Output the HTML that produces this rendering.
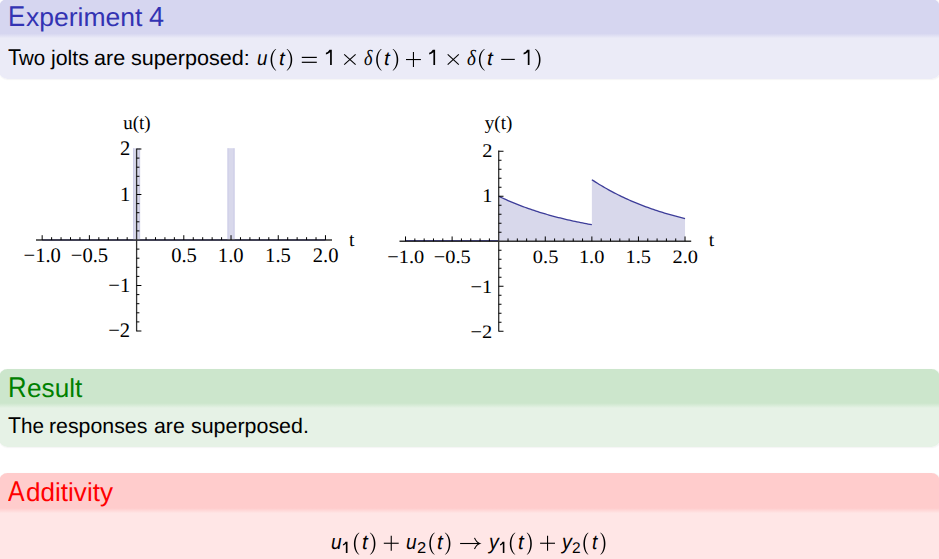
<!DOCTYPE html>
<html><head><meta charset="utf-8"><style>
html,body{margin:0;padding:0;}
body{width:939px;height:559px;overflow:hidden;background:#fff;position:relative;}
.blk{position:absolute;left:-1.2px;width:941.2px;border-radius:8.5px;box-shadow:0.4px 0.8px 1px rgba(60,60,60,0.05);}
span{position:absolute;line-height:1;white-space:pre;transform-origin:0 0;text-rendering:geometricPrecision;}
svg{position:absolute;left:0;top:0;}
</style></head><body>
<div class="blk" style="top:-1.0px;height:80.00px;background:linear-gradient(to bottom,rgb(214,214,240) 0px,rgb(214,214,240) 34.50px,rgb(235,235,247) 39.20px,rgb(235,235,247) 100%)"></div><div class="blk" style="top:369.27px;height:77.33px;background:linear-gradient(to bottom,rgb(204,230,204) 0px,rgb(204,230,204) 34.13px,rgb(230,242,230) 39.03px,rgb(230,242,230) 100%)"></div><div class="blk" style="top:473.27px;height:126.73px;background:linear-gradient(to bottom,rgb(255,204,204) 0px,rgb(255,204,204) 35.13px,rgb(255,230,230) 40.23px,rgb(255,230,230) 100%)"></div>
<svg width="939" height="559" viewBox="0 0 939 559">
<line x1="42.17" y1="240" x2="325.46" y2="240" stroke="rgb(61,61,153)" stroke-width="1.5"/>
<rect x="133.20" y="148.2" width="6.8" height="91.80" fill="rgb(216,216,235)"/>
<line x1="133.50" y1="148.2" x2="133.50" y2="240" stroke="rgb(200,200,228)" stroke-width="0.8"/>
<line x1="139.70" y1="148.2" x2="139.70" y2="240" stroke="rgb(200,200,228)" stroke-width="0.8"/>
<rect x="227.63" y="148.2" width="6.8" height="91.80" fill="rgb(216,216,235)"/>
<line x1="227.93" y1="148.2" x2="227.93" y2="240" stroke="rgb(200,200,228)" stroke-width="0.8"/>
<line x1="234.13" y1="148.2" x2="234.13" y2="240" stroke="rgb(200,200,228)" stroke-width="0.8"/>
<line x1="36" y1="240.0" x2="332" y2="240.0" stroke="#333" stroke-width="1.3"/>
<line x1="136.6" y1="148.6" x2="136.6" y2="331.4" stroke="#333" stroke-width="1.3"/>
<line x1="42.17" y1="240.0" x2="42.17" y2="235.2" stroke="#000" stroke-width="1.0"/>
<line x1="51.61" y1="240.0" x2="51.61" y2="237.2" stroke="#000" stroke-width="1.0"/>
<line x1="61.06" y1="240.0" x2="61.06" y2="237.2" stroke="#000" stroke-width="1.0"/>
<line x1="70.50" y1="240.0" x2="70.50" y2="237.2" stroke="#000" stroke-width="1.0"/>
<line x1="79.94" y1="240.0" x2="79.94" y2="237.2" stroke="#000" stroke-width="1.0"/>
<line x1="89.38" y1="240.0" x2="89.38" y2="235.2" stroke="#000" stroke-width="1.0"/>
<line x1="98.83" y1="240.0" x2="98.83" y2="237.2" stroke="#000" stroke-width="1.0"/>
<line x1="108.27" y1="240.0" x2="108.27" y2="237.2" stroke="#000" stroke-width="1.0"/>
<line x1="117.71" y1="240.0" x2="117.71" y2="237.2" stroke="#000" stroke-width="1.0"/>
<line x1="127.16" y1="240.0" x2="127.16" y2="237.2" stroke="#000" stroke-width="1.0"/>
<line x1="146.04" y1="240.0" x2="146.04" y2="237.2" stroke="#000" stroke-width="1.0"/>
<line x1="155.49" y1="240.0" x2="155.49" y2="237.2" stroke="#000" stroke-width="1.0"/>
<line x1="164.93" y1="240.0" x2="164.93" y2="237.2" stroke="#000" stroke-width="1.0"/>
<line x1="174.37" y1="240.0" x2="174.37" y2="237.2" stroke="#000" stroke-width="1.0"/>
<line x1="183.81" y1="240.0" x2="183.81" y2="235.2" stroke="#000" stroke-width="1.0"/>
<line x1="193.26" y1="240.0" x2="193.26" y2="237.2" stroke="#000" stroke-width="1.0"/>
<line x1="202.70" y1="240.0" x2="202.70" y2="237.2" stroke="#000" stroke-width="1.0"/>
<line x1="212.14" y1="240.0" x2="212.14" y2="237.2" stroke="#000" stroke-width="1.0"/>
<line x1="221.59" y1="240.0" x2="221.59" y2="237.2" stroke="#000" stroke-width="1.0"/>
<line x1="231.03" y1="240.0" x2="231.03" y2="235.2" stroke="#000" stroke-width="1.0"/>
<line x1="240.47" y1="240.0" x2="240.47" y2="237.2" stroke="#000" stroke-width="1.0"/>
<line x1="249.92" y1="240.0" x2="249.92" y2="237.2" stroke="#000" stroke-width="1.0"/>
<line x1="259.36" y1="240.0" x2="259.36" y2="237.2" stroke="#000" stroke-width="1.0"/>
<line x1="268.80" y1="240.0" x2="268.80" y2="237.2" stroke="#000" stroke-width="1.0"/>
<line x1="278.25" y1="240.0" x2="278.25" y2="235.2" stroke="#000" stroke-width="1.0"/>
<line x1="287.69" y1="240.0" x2="287.69" y2="237.2" stroke="#000" stroke-width="1.0"/>
<line x1="297.13" y1="240.0" x2="297.13" y2="237.2" stroke="#000" stroke-width="1.0"/>
<line x1="306.57" y1="240.0" x2="306.57" y2="237.2" stroke="#000" stroke-width="1.0"/>
<line x1="316.02" y1="240.0" x2="316.02" y2="237.2" stroke="#000" stroke-width="1.0"/>
<line x1="325.46" y1="240.0" x2="325.46" y2="235.2" stroke="#000" stroke-width="1.0"/>
<line x1="136.6" y1="331.00" x2="141.4" y2="331.00" stroke="#000" stroke-width="1.0"/>
<line x1="136.6" y1="321.90" x2="139.4" y2="321.90" stroke="#000" stroke-width="1.0"/>
<line x1="136.6" y1="312.80" x2="139.4" y2="312.80" stroke="#000" stroke-width="1.0"/>
<line x1="136.6" y1="303.70" x2="139.4" y2="303.70" stroke="#000" stroke-width="1.0"/>
<line x1="136.6" y1="294.60" x2="139.4" y2="294.60" stroke="#000" stroke-width="1.0"/>
<line x1="136.6" y1="285.50" x2="141.4" y2="285.50" stroke="#000" stroke-width="1.0"/>
<line x1="136.6" y1="276.40" x2="139.4" y2="276.40" stroke="#000" stroke-width="1.0"/>
<line x1="136.6" y1="267.30" x2="139.4" y2="267.30" stroke="#000" stroke-width="1.0"/>
<line x1="136.6" y1="258.20" x2="139.4" y2="258.20" stroke="#000" stroke-width="1.0"/>
<line x1="136.6" y1="249.10" x2="139.4" y2="249.10" stroke="#000" stroke-width="1.0"/>
<line x1="136.6" y1="230.90" x2="139.4" y2="230.90" stroke="#000" stroke-width="1.0"/>
<line x1="136.6" y1="221.80" x2="139.4" y2="221.80" stroke="#000" stroke-width="1.0"/>
<line x1="136.6" y1="212.70" x2="139.4" y2="212.70" stroke="#000" stroke-width="1.0"/>
<line x1="136.6" y1="203.60" x2="139.4" y2="203.60" stroke="#000" stroke-width="1.0"/>
<line x1="136.6" y1="194.50" x2="141.4" y2="194.50" stroke="#000" stroke-width="1.0"/>
<line x1="136.6" y1="185.40" x2="139.4" y2="185.40" stroke="#000" stroke-width="1.0"/>
<line x1="136.6" y1="176.30" x2="139.4" y2="176.30" stroke="#000" stroke-width="1.0"/>
<line x1="136.6" y1="167.20" x2="139.4" y2="167.20" stroke="#000" stroke-width="1.0"/>
<line x1="136.6" y1="158.10" x2="139.4" y2="158.10" stroke="#000" stroke-width="1.0"/>
<line x1="136.6" y1="149.00" x2="141.4" y2="149.00" stroke="#000" stroke-width="1.0"/>
<polygon points="498.70,241.25 498.70,196.25 500.56,197.14 502.43,198.01 504.29,198.87 506.15,199.71 508.02,200.53 509.88,201.34 511.74,202.13 513.61,202.90 515.47,203.66 517.33,204.41 519.20,205.14 521.06,205.85 522.92,206.55 524.79,207.24 526.65,207.91 528.51,208.57 530.38,209.22 532.24,209.85 534.10,210.48 535.97,211.09 537.83,211.68 539.69,212.27 541.56,212.84 543.42,213.40 545.28,213.96 547.15,214.50 549.01,215.03 550.88,215.55 552.74,216.05 554.60,216.55 556.47,217.04 558.33,217.52 560.19,217.99 562.06,218.45 563.92,218.90 565.78,219.35 567.65,219.78 569.51,220.21 571.37,220.62 573.24,221.03 575.10,221.43 576.96,221.82 578.83,222.21 580.69,222.58 582.55,222.95 584.42,223.32 586.28,223.67 588.14,224.02 590.01,224.36 591.86,224.69 591.87,224.70 591.87,179.70 593.73,180.91 595.60,182.11 597.46,183.28 599.32,184.43 601.19,185.55 603.05,186.66 604.91,187.74 606.78,188.80 608.64,189.84 610.50,190.85 612.37,191.85 614.23,192.83 616.09,193.79 617.96,194.73 619.82,195.65 621.68,196.55 623.55,197.44 625.41,198.30 627.27,199.16 629.14,199.99 631.00,200.81 632.86,201.61 634.73,202.39 636.59,203.16 638.45,203.92 640.32,204.65 642.18,205.38 644.05,206.09 645.91,206.79 647.77,207.47 649.64,208.14 651.50,208.79 653.36,209.44 655.23,210.07 657.09,210.68 658.95,211.29 660.82,211.88 662.68,212.46 664.54,213.03 666.41,213.59 668.27,214.14 670.13,214.68 672.00,215.20 673.86,215.72 675.72,216.22 677.59,216.72 679.45,217.21 681.31,217.68 683.18,218.15 685.04,218.61 685.04,241.25" fill="rgb(216,216,235)"/>
<line x1="405.53" y1="240.65" x2="498.70" y2="240.65" stroke="rgb(61,61,153)" stroke-width="1.4"/>
<polyline points="498.70,196.25 500.56,197.14 502.43,198.01 504.29,198.87 506.15,199.71 508.02,200.53 509.88,201.34 511.74,202.13 513.61,202.90 515.47,203.66 517.33,204.41 519.20,205.14 521.06,205.85 522.92,206.55 524.79,207.24 526.65,207.91 528.51,208.57 530.38,209.22 532.24,209.85 534.10,210.48 535.97,211.09 537.83,211.68 539.69,212.27 541.56,212.84 543.42,213.40 545.28,213.96 547.15,214.50 549.01,215.03 550.88,215.55 552.74,216.05 554.60,216.55 556.47,217.04 558.33,217.52 560.19,217.99 562.06,218.45 563.92,218.90 565.78,219.35 567.65,219.78 569.51,220.21 571.37,220.62 573.24,221.03 575.10,221.43 576.96,221.82 578.83,222.21 580.69,222.58 582.55,222.95 584.42,223.32 586.28,223.67 588.14,224.02 590.01,224.36 591.86,224.69" fill="none" stroke="rgb(61,61,153)" stroke-width="1.3"/>
<polyline points="591.87,179.70 593.73,180.91 595.60,182.11 597.46,183.28 599.32,184.43 601.19,185.55 603.05,186.66 604.91,187.74 606.78,188.80 608.64,189.84 610.50,190.85 612.37,191.85 614.23,192.83 616.09,193.79 617.96,194.73 619.82,195.65 621.68,196.55 623.55,197.44 625.41,198.30 627.27,199.16 629.14,199.99 631.00,200.81 632.86,201.61 634.73,202.39 636.59,203.16 638.45,203.92 640.32,204.65 642.18,205.38 644.05,206.09 645.91,206.79 647.77,207.47 649.64,208.14 651.50,208.79 653.36,209.44 655.23,210.07 657.09,210.68 658.95,211.29 660.82,211.88 662.68,212.46 664.54,213.03 666.41,213.59 668.27,214.14 670.13,214.68 672.00,215.20 673.86,215.72 675.72,216.22 677.59,216.72 679.45,217.21 681.31,217.68 683.18,218.15 685.04,218.61" fill="none" stroke="rgb(61,61,153)" stroke-width="1.3"/>
<line x1="399.5" y1="241.25" x2="691.2" y2="241.25" stroke="#333" stroke-width="1.3"/>
<line x1="498.7" y1="150.5" x2="498.7" y2="331.6" stroke="#333" stroke-width="1.3"/>
<line x1="405.53" y1="241.25" x2="405.53" y2="236.45" stroke="#000" stroke-width="1.0"/>
<line x1="414.85" y1="241.25" x2="414.85" y2="238.45" stroke="#000" stroke-width="1.0"/>
<line x1="424.16" y1="241.25" x2="424.16" y2="238.45" stroke="#000" stroke-width="1.0"/>
<line x1="433.48" y1="241.25" x2="433.48" y2="238.45" stroke="#000" stroke-width="1.0"/>
<line x1="442.80" y1="241.25" x2="442.80" y2="238.45" stroke="#000" stroke-width="1.0"/>
<line x1="452.12" y1="241.25" x2="452.12" y2="236.45" stroke="#000" stroke-width="1.0"/>
<line x1="461.43" y1="241.25" x2="461.43" y2="238.45" stroke="#000" stroke-width="1.0"/>
<line x1="470.75" y1="241.25" x2="470.75" y2="238.45" stroke="#000" stroke-width="1.0"/>
<line x1="480.07" y1="241.25" x2="480.07" y2="238.45" stroke="#000" stroke-width="1.0"/>
<line x1="489.38" y1="241.25" x2="489.38" y2="238.45" stroke="#000" stroke-width="1.0"/>
<line x1="508.02" y1="241.25" x2="508.02" y2="238.45" stroke="#000" stroke-width="1.0"/>
<line x1="517.33" y1="241.25" x2="517.33" y2="238.45" stroke="#000" stroke-width="1.0"/>
<line x1="526.65" y1="241.25" x2="526.65" y2="238.45" stroke="#000" stroke-width="1.0"/>
<line x1="535.97" y1="241.25" x2="535.97" y2="238.45" stroke="#000" stroke-width="1.0"/>
<line x1="545.28" y1="241.25" x2="545.28" y2="236.45" stroke="#000" stroke-width="1.0"/>
<line x1="554.60" y1="241.25" x2="554.60" y2="238.45" stroke="#000" stroke-width="1.0"/>
<line x1="563.92" y1="241.25" x2="563.92" y2="238.45" stroke="#000" stroke-width="1.0"/>
<line x1="573.24" y1="241.25" x2="573.24" y2="238.45" stroke="#000" stroke-width="1.0"/>
<line x1="582.55" y1="241.25" x2="582.55" y2="238.45" stroke="#000" stroke-width="1.0"/>
<line x1="591.87" y1="241.25" x2="591.87" y2="236.45" stroke="#000" stroke-width="1.0"/>
<line x1="601.19" y1="241.25" x2="601.19" y2="238.45" stroke="#000" stroke-width="1.0"/>
<line x1="610.50" y1="241.25" x2="610.50" y2="238.45" stroke="#000" stroke-width="1.0"/>
<line x1="619.82" y1="241.25" x2="619.82" y2="238.45" stroke="#000" stroke-width="1.0"/>
<line x1="629.14" y1="241.25" x2="629.14" y2="238.45" stroke="#000" stroke-width="1.0"/>
<line x1="638.45" y1="241.25" x2="638.45" y2="236.45" stroke="#000" stroke-width="1.0"/>
<line x1="647.77" y1="241.25" x2="647.77" y2="238.45" stroke="#000" stroke-width="1.0"/>
<line x1="657.09" y1="241.25" x2="657.09" y2="238.45" stroke="#000" stroke-width="1.0"/>
<line x1="666.41" y1="241.25" x2="666.41" y2="238.45" stroke="#000" stroke-width="1.0"/>
<line x1="675.72" y1="241.25" x2="675.72" y2="238.45" stroke="#000" stroke-width="1.0"/>
<line x1="685.04" y1="241.25" x2="685.04" y2="236.45" stroke="#000" stroke-width="1.0"/>
<line x1="498.7" y1="331.25" x2="503.5" y2="331.25" stroke="#000" stroke-width="1.0"/>
<line x1="498.7" y1="322.25" x2="501.5" y2="322.25" stroke="#000" stroke-width="1.0"/>
<line x1="498.7" y1="313.25" x2="501.5" y2="313.25" stroke="#000" stroke-width="1.0"/>
<line x1="498.7" y1="304.25" x2="501.5" y2="304.25" stroke="#000" stroke-width="1.0"/>
<line x1="498.7" y1="295.25" x2="501.5" y2="295.25" stroke="#000" stroke-width="1.0"/>
<line x1="498.7" y1="286.25" x2="503.5" y2="286.25" stroke="#000" stroke-width="1.0"/>
<line x1="498.7" y1="277.25" x2="501.5" y2="277.25" stroke="#000" stroke-width="1.0"/>
<line x1="498.7" y1="268.25" x2="501.5" y2="268.25" stroke="#000" stroke-width="1.0"/>
<line x1="498.7" y1="259.25" x2="501.5" y2="259.25" stroke="#000" stroke-width="1.0"/>
<line x1="498.7" y1="250.25" x2="501.5" y2="250.25" stroke="#000" stroke-width="1.0"/>
<line x1="498.7" y1="232.25" x2="501.5" y2="232.25" stroke="#000" stroke-width="1.0"/>
<line x1="498.7" y1="223.25" x2="501.5" y2="223.25" stroke="#000" stroke-width="1.0"/>
<line x1="498.7" y1="214.25" x2="501.5" y2="214.25" stroke="#000" stroke-width="1.0"/>
<line x1="498.7" y1="205.25" x2="501.5" y2="205.25" stroke="#000" stroke-width="1.0"/>
<line x1="498.7" y1="196.25" x2="503.5" y2="196.25" stroke="#000" stroke-width="1.0"/>
<line x1="498.7" y1="187.25" x2="501.5" y2="187.25" stroke="#000" stroke-width="1.0"/>
<line x1="498.7" y1="178.25" x2="501.5" y2="178.25" stroke="#000" stroke-width="1.0"/>
<line x1="498.7" y1="169.25" x2="501.5" y2="169.25" stroke="#000" stroke-width="1.0"/>
<line x1="498.7" y1="160.25" x2="501.5" y2="160.25" stroke="#000" stroke-width="1.0"/>
<line x1="498.7" y1="151.25" x2="503.5" y2="151.25" stroke="#000" stroke-width="1.0"/>

<line x1="301.8" y1="57.4" x2="316.8" y2="57.4" stroke="#000" stroke-width="1.2"/>
<line x1="301.8" y1="62.3" x2="316.8" y2="62.3" stroke="#000" stroke-width="1.2"/>
<line x1="344.2" y1="54.3" x2="355.6" y2="64.6" stroke="#000" stroke-width="1.1"/>
<line x1="344.2" y1="64.6" x2="355.6" y2="54.3" stroke="#000" stroke-width="1.1"/>
<line x1="447.7" y1="54.3" x2="458.8" y2="64.6" stroke="#000" stroke-width="1.1"/>
<line x1="447.7" y1="64.6" x2="458.8" y2="54.3" stroke="#000" stroke-width="1.1"/>
<line x1="406.0" y1="59.55" x2="420.9" y2="59.55" stroke="#000" stroke-width="1.1"/>
<line x1="413.45" y1="52.1" x2="413.45" y2="67.0" stroke="#000" stroke-width="1.1"/>
<line x1="501.2" y1="59.4" x2="514.8" y2="59.4" stroke="#000" stroke-width="1.1"/>
<line x1="383.8" y1="543.25" x2="398.7" y2="543.25" stroke="#000" stroke-width="1.1"/>
<line x1="391.25" y1="535.8" x2="391.25" y2="550.7" stroke="#000" stroke-width="1.1"/>
<line x1="540.1" y1="543.25" x2="555.0" y2="543.25" stroke="#000" stroke-width="1.1"/>
<line x1="547.55" y1="535.8" x2="547.55" y2="550.7" stroke="#000" stroke-width="1.1"/>
<line x1="460.1" y1="543.5" x2="479.2" y2="543.5" stroke="#000" stroke-width="1.1"/>
<path d="M474.5,537.9 Q476.5,542.5 479.7,543.5 Q476.5,544.5 474.5,549" fill="none" stroke="#000" stroke-width="1.1"/>
<path d="M331.80,49.70 L331.80,64.90 L330.09,64.90 L330.09,52.13 Q327.99,54.11 325.90,54.41 L325.90,52.74 Q327.99,52.28 329.54,49.70 Z" fill="#000"/>
<path d="M435.10,49.70 L435.10,64.90 L433.39,64.90 L433.39,52.13 Q431.29,54.11 429.20,54.41 L429.20,52.74 Q431.29,52.28 432.84,49.70 Z" fill="#000"/>
<path d="M529.50,49.70 L529.50,64.90 L527.79,64.90 L527.79,52.13 Q525.69,54.11 523.60,54.41 L523.60,52.74 Q525.69,52.28 527.24,49.70 Z" fill="#000"/>
<path d="M347.50,541.70 L347.50,552.90 L345.84,552.90 L345.84,543.72 Q344.37,545.17 342.90,545.40 L342.90,544.16 Q344.37,543.83 345.46,541.70 Z" fill="#000"/>
<path d="M504.40,541.70 L504.40,552.90 L502.82,552.90 L502.82,543.72 Q501.41,545.17 500.00,545.40 L500.00,544.16 Q501.41,543.83 502.45,541.70 Z" fill="#000"/>
<path d="M275.55,49.10 L274.34,49.99 L273.48,50.88 L272.82,51.76 L272.29,52.65 L271.85,53.54 L271.50,54.43 L271.21,55.31 L270.99,56.20 L270.81,57.09 L270.69,57.98 L270.62,58.86 L270.60,59.75 L270.62,60.64 L270.69,61.53 L270.81,62.41 L270.99,63.30 L271.21,64.19 L271.50,65.08 L271.85,65.96 L272.29,66.85 L272.82,67.74 L273.48,68.62 L274.34,69.51 L275.55,70.40 L276.30,70.40 L275.28,69.51 L274.57,68.62 L274.01,67.74 L273.56,66.85 L273.20,65.96 L272.90,65.08 L272.66,64.19 L272.47,63.30 L272.33,62.41 L272.23,61.53 L272.17,60.64 L272.15,59.75 L272.17,58.86 L272.23,57.98 L272.33,57.09 L272.47,56.20 L272.66,55.31 L272.90,54.43 L273.20,53.54 L273.56,52.65 L274.01,51.76 L274.57,50.88 L275.28,49.99 L276.30,49.10 Z" fill="#000"/>
<path d="M381.05,49.10 L379.86,49.99 L379.02,50.88 L378.37,51.76 L377.85,52.65 L377.43,53.54 L377.08,54.43 L376.80,55.31 L376.58,56.20 L376.41,57.09 L376.29,57.98 L376.22,58.86 L376.20,59.75 L376.22,60.64 L376.29,61.53 L376.41,62.41 L376.58,63.30 L376.80,64.19 L377.08,65.08 L377.43,65.96 L377.85,66.85 L378.37,67.74 L379.02,68.62 L379.86,69.51 L381.05,70.40 L381.80,70.40 L380.81,69.51 L380.11,68.62 L379.56,67.74 L379.13,66.85 L378.77,65.96 L378.48,65.08 L378.25,64.19 L378.07,63.30 L377.93,62.41 L377.83,61.53 L377.77,60.64 L377.75,59.75 L377.77,58.86 L377.83,57.98 L377.93,57.09 L378.07,56.20 L378.25,55.31 L378.48,54.43 L378.77,53.54 L379.13,52.65 L379.56,51.76 L380.11,50.88 L380.81,49.99 L381.80,49.10 Z" fill="#000"/>
<path d="M484.25,49.10 L482.94,49.99 L482.01,50.88 L481.30,51.76 L480.72,52.65 L480.25,53.54 L479.87,54.43 L479.56,55.31 L479.32,56.20 L479.13,57.09 L479.00,57.98 L478.93,58.86 L478.90,59.75 L478.93,60.64 L479.00,61.53 L479.13,62.41 L479.32,63.30 L479.56,64.19 L479.87,65.08 L480.25,65.96 L480.72,66.85 L481.30,67.74 L482.01,68.62 L482.94,69.51 L484.25,70.40 L485.00,70.40 L483.88,69.51 L483.10,68.62 L482.49,67.74 L482.00,66.85 L481.60,65.96 L481.28,65.08 L481.01,64.19 L480.80,63.30 L480.65,62.41 L480.54,61.53 L480.47,60.64 L480.45,59.75 L480.47,58.86 L480.54,57.98 L480.65,57.09 L480.80,56.20 L481.01,55.31 L481.28,54.43 L481.60,53.54 L482.00,52.65 L482.49,51.76 L483.10,50.88 L483.88,49.99 L485.00,49.10 Z" fill="#000"/>
<path d="M287.25,49.10 L288.46,49.99 L289.32,50.88 L289.98,51.76 L290.51,52.65 L290.95,53.54 L291.30,54.43 L291.59,55.31 L291.81,56.20 L291.99,57.09 L292.11,57.98 L292.18,58.86 L292.20,59.75 L292.18,60.64 L292.11,61.53 L291.99,62.41 L291.81,63.30 L291.59,64.19 L291.30,65.08 L290.95,65.96 L290.51,66.85 L289.98,67.74 L289.32,68.62 L288.46,69.51 L287.25,70.40 L286.50,70.40 L287.52,69.51 L288.23,68.62 L288.79,67.74 L289.24,66.85 L289.60,65.96 L289.90,65.08 L290.14,64.19 L290.33,63.30 L290.47,62.41 L290.57,61.53 L290.63,60.64 L290.65,59.75 L290.63,58.86 L290.57,57.98 L290.47,57.09 L290.33,56.20 L290.14,55.31 L289.90,54.43 L289.60,53.54 L289.24,52.65 L288.79,51.76 L288.23,50.88 L287.52,49.99 L286.50,49.10 Z" fill="#000"/>
<path d="M393.25,49.10 L394.46,49.99 L395.32,50.88 L395.98,51.76 L396.51,52.65 L396.95,53.54 L397.30,54.43 L397.59,55.31 L397.81,56.20 L397.99,57.09 L398.11,57.98 L398.18,58.86 L398.20,59.75 L398.18,60.64 L398.11,61.53 L397.99,62.41 L397.81,63.30 L397.59,64.19 L397.30,65.08 L396.95,65.96 L396.51,66.85 L395.98,67.74 L395.32,68.62 L394.46,69.51 L393.25,70.40 L392.50,70.40 L393.52,69.51 L394.23,68.62 L394.79,67.74 L395.24,66.85 L395.60,65.96 L395.90,65.08 L396.14,64.19 L396.33,63.30 L396.47,62.41 L396.57,61.53 L396.63,60.64 L396.65,59.75 L396.63,58.86 L396.57,57.98 L396.47,57.09 L396.33,56.20 L396.14,55.31 L395.90,54.43 L395.60,53.54 L395.24,52.65 L394.79,51.76 L394.23,50.88 L393.52,49.99 L392.50,49.10 Z" fill="#000"/>
<path d="M535.55,49.10 L536.76,49.99 L537.62,50.88 L538.28,51.76 L538.81,52.65 L539.25,53.54 L539.60,54.43 L539.89,55.31 L540.11,56.20 L540.29,57.09 L540.41,57.98 L540.48,58.86 L540.50,59.75 L540.48,60.64 L540.41,61.53 L540.29,62.41 L540.11,63.30 L539.89,64.19 L539.60,65.08 L539.25,65.96 L538.81,66.85 L538.28,67.74 L537.62,68.62 L536.76,69.51 L535.55,70.40 L534.80,70.40 L535.82,69.51 L536.53,68.62 L537.09,67.74 L537.54,66.85 L537.90,65.96 L538.20,65.08 L538.44,64.19 L538.63,63.30 L538.77,62.41 L538.87,61.53 L538.93,60.64 L538.95,59.75 L538.93,58.86 L538.87,57.98 L538.77,57.09 L538.63,56.20 L538.44,55.31 L538.20,54.43 L537.90,53.54 L537.54,52.65 L537.09,51.76 L536.53,50.88 L535.82,49.99 L534.80,49.10 Z" fill="#000"/>
<path d="M358.75,532.80 L357.56,533.71 L356.72,534.62 L356.07,535.52 L355.55,536.43 L355.13,537.34 L354.78,538.25 L354.50,539.16 L354.28,540.07 L354.11,540.98 L353.99,541.88 L353.92,542.79 L353.90,543.70 L353.92,544.61 L353.99,545.52 L354.11,546.42 L354.28,547.33 L354.50,548.24 L354.78,549.15 L355.13,550.06 L355.55,550.97 L356.07,551.88 L356.72,552.78 L357.56,553.69 L358.75,554.60 L359.50,554.60 L358.51,553.69 L357.81,552.78 L357.26,551.88 L356.83,550.97 L356.47,550.06 L356.18,549.15 L355.95,548.24 L355.77,547.33 L355.63,546.42 L355.53,545.52 L355.47,544.61 L355.45,543.70 L355.47,542.79 L355.53,541.88 L355.63,540.98 L355.77,540.07 L355.95,539.16 L356.18,538.25 L356.47,537.34 L356.83,536.43 L357.26,535.52 L357.81,534.62 L358.51,533.71 L359.50,532.80 Z" fill="#000"/>
<path d="M434.15,532.80 L432.96,533.71 L432.12,534.62 L431.47,535.52 L430.95,536.43 L430.53,537.34 L430.18,538.25 L429.90,539.16 L429.68,540.07 L429.51,540.98 L429.39,541.88 L429.32,542.79 L429.30,543.70 L429.32,544.61 L429.39,545.52 L429.51,546.42 L429.68,547.33 L429.90,548.24 L430.18,549.15 L430.53,550.06 L430.95,550.97 L431.47,551.88 L432.12,552.78 L432.96,553.69 L434.15,554.60 L434.90,554.60 L433.91,553.69 L433.21,552.78 L432.66,551.88 L432.23,550.97 L431.87,550.06 L431.58,549.15 L431.35,548.24 L431.17,547.33 L431.03,546.42 L430.93,545.52 L430.87,544.61 L430.85,543.70 L430.87,542.79 L430.93,541.88 L431.03,540.98 L431.17,540.07 L431.35,539.16 L431.58,538.25 L431.87,537.34 L432.23,536.43 L432.66,535.52 L433.21,534.62 L433.91,533.71 L434.90,532.80 Z" fill="#000"/>
<path d="M514.75,532.80 L513.54,533.71 L512.68,534.62 L512.02,535.52 L511.49,536.43 L511.05,537.34 L510.70,538.25 L510.41,539.16 L510.19,540.07 L510.01,540.98 L509.89,541.88 L509.82,542.79 L509.80,543.70 L509.82,544.61 L509.89,545.52 L510.01,546.42 L510.19,547.33 L510.41,548.24 L510.70,549.15 L511.05,550.06 L511.49,550.97 L512.02,551.88 L512.68,552.78 L513.54,553.69 L514.75,554.60 L515.50,554.60 L514.48,553.69 L513.77,552.78 L513.21,551.88 L512.76,550.97 L512.40,550.06 L512.10,549.15 L511.86,548.24 L511.67,547.33 L511.53,546.42 L511.43,545.52 L511.37,544.61 L511.35,543.70 L511.37,542.79 L511.43,541.88 L511.53,540.98 L511.67,540.07 L511.86,539.16 L512.10,538.25 L512.40,537.34 L512.76,536.43 L513.21,535.52 L513.77,534.62 L514.48,533.71 L515.50,532.80 Z" fill="#000"/>
<path d="M587.85,532.80 L586.76,533.71 L585.99,534.62 L585.39,535.52 L584.92,536.43 L584.53,537.34 L584.21,538.25 L583.95,539.16 L583.75,540.07 L583.59,540.98 L583.49,541.88 L583.42,542.79 L583.40,543.70 L583.42,544.61 L583.49,545.52 L583.59,546.42 L583.75,547.33 L583.95,548.24 L584.21,549.15 L584.53,550.06 L584.92,550.97 L585.39,551.88 L585.99,552.78 L586.76,553.69 L587.85,554.60 L588.60,554.60 L587.70,553.69 L587.07,552.78 L586.59,551.88 L586.19,550.97 L585.87,550.06 L585.61,549.15 L585.40,548.24 L585.23,547.33 L585.11,546.42 L585.02,545.52 L584.97,544.61 L584.95,543.70 L584.97,542.79 L585.02,541.88 L585.11,540.98 L585.23,540.07 L585.40,539.16 L585.61,538.25 L585.87,537.34 L586.19,536.43 L586.59,535.52 L587.07,534.62 L587.70,533.71 L588.60,532.80 Z" fill="#000"/>
<path d="M370.45,532.80 L371.66,533.71 L372.52,534.62 L373.18,535.52 L373.71,536.43 L374.15,537.34 L374.50,538.25 L374.79,539.16 L375.01,540.07 L375.19,540.98 L375.31,541.88 L375.38,542.79 L375.40,543.70 L375.38,544.61 L375.31,545.52 L375.19,546.42 L375.01,547.33 L374.79,548.24 L374.50,549.15 L374.15,550.06 L373.71,550.97 L373.18,551.88 L372.52,552.78 L371.66,553.69 L370.45,554.60 L369.70,554.60 L370.72,553.69 L371.43,552.78 L371.99,551.88 L372.44,550.97 L372.80,550.06 L373.10,549.15 L373.34,548.24 L373.53,547.33 L373.67,546.42 L373.77,545.52 L373.83,544.61 L373.85,543.70 L373.83,542.79 L373.77,541.88 L373.67,540.98 L373.53,540.07 L373.34,539.16 L373.10,538.25 L372.80,537.34 L372.44,536.43 L371.99,535.52 L371.43,534.62 L370.72,533.71 L369.70,532.80 Z" fill="#000"/>
<path d="M445.45,532.80 L446.66,533.71 L447.52,534.62 L448.18,535.52 L448.71,536.43 L449.15,537.34 L449.50,538.25 L449.79,539.16 L450.01,540.07 L450.19,540.98 L450.31,541.88 L450.38,542.79 L450.40,543.70 L450.38,544.61 L450.31,545.52 L450.19,546.42 L450.01,547.33 L449.79,548.24 L449.50,549.15 L449.15,550.06 L448.71,550.97 L448.18,551.88 L447.52,552.78 L446.66,553.69 L445.45,554.60 L444.70,554.60 L445.72,553.69 L446.43,552.78 L446.99,551.88 L447.44,550.97 L447.80,550.06 L448.10,549.15 L448.34,548.24 L448.53,547.33 L448.67,546.42 L448.77,545.52 L448.83,544.61 L448.85,543.70 L448.83,542.79 L448.77,541.88 L448.67,540.98 L448.53,540.07 L448.34,539.16 L448.10,538.25 L447.80,537.34 L447.44,536.43 L446.99,535.52 L446.43,534.62 L445.72,533.71 L444.70,532.80 Z" fill="#000"/>
<path d="M527.35,532.80 L528.44,533.71 L529.21,534.62 L529.81,535.52 L530.28,536.43 L530.67,537.34 L530.99,538.25 L531.25,539.16 L531.45,540.07 L531.61,540.98 L531.71,541.88 L531.78,542.79 L531.80,543.70 L531.78,544.61 L531.71,545.52 L531.61,546.42 L531.45,547.33 L531.25,548.24 L530.99,549.15 L530.67,550.06 L530.28,550.97 L529.81,551.88 L529.21,552.78 L528.44,553.69 L527.35,554.60 L526.60,554.60 L527.50,553.69 L528.13,552.78 L528.61,551.88 L529.01,550.97 L529.33,550.06 L529.59,549.15 L529.80,548.24 L529.97,547.33 L530.09,546.42 L530.18,545.52 L530.23,544.61 L530.25,543.70 L530.23,542.79 L530.18,541.88 L530.09,540.98 L529.97,540.07 L529.80,539.16 L529.59,538.25 L529.33,537.34 L529.01,536.43 L528.61,535.52 L528.13,534.62 L527.50,533.71 L526.60,532.80 Z" fill="#000"/>
<path d="M600.85,532.80 L601.97,533.71 L602.75,534.62 L603.36,535.52 L603.85,536.43 L604.25,537.34 L604.57,538.25 L604.84,539.16 L605.05,540.07 L605.20,540.98 L605.31,541.88 L605.38,542.79 L605.40,543.70 L605.38,544.61 L605.31,545.52 L605.20,546.42 L605.05,547.33 L604.84,548.24 L604.57,549.15 L604.25,550.06 L603.85,550.97 L603.36,551.88 L602.75,552.78 L601.97,553.69 L600.85,554.60 L600.10,554.60 L601.02,553.69 L601.67,552.78 L602.17,551.88 L602.57,550.97 L602.90,550.06 L603.17,549.15 L603.39,548.24 L603.56,547.33 L603.69,546.42 L603.78,545.52 L603.83,544.61 L603.85,543.70 L603.83,542.79 L603.78,541.88 L603.69,540.98 L603.56,540.07 L603.39,539.16 L603.17,538.25 L602.90,537.34 L602.57,536.43 L602.17,535.52 L601.67,534.62 L601.02,533.71 L600.10,532.80 Z" fill="#000"/>
</svg>
<span style="left:7.62px;top:3.00px;font-family:'Liberation Sans', sans-serif;font-style:normal;font-size:28.60px;color:rgb(51,51,179);transform:scale(0.9023,1.0000)">E</span>
<span style="left:25.67px;top:4.00px;font-family:'Liberation Sans', sans-serif;font-style:normal;font-size:26.00px;color:rgb(51,51,179);transform:scale(1.0192,1.0000)">xperiment</span>
<span style="left:149.49px;top:3.00px;font-family:'Liberation Sans', sans-serif;font-style:normal;font-size:27.60px;color:rgb(51,51,179);transform:scale(0.9829,1.0000)">4</span>
<span style="left:7.63px;top:374.00px;font-family:'Liberation Sans', sans-serif;font-style:normal;font-size:28.60px;color:rgb(0,128,0);transform:scale(0.8999,1.0000)">R</span>
<span style="left:26.89px;top:375.00px;font-family:'Liberation Sans', sans-serif;font-style:normal;font-size:26.00px;color:rgb(0,128,0);transform:scale(1.0070,1.0000)">esult</span>
<span style="left:7.94px;top:478.00px;font-family:'Liberation Sans', sans-serif;font-style:normal;font-size:28.60px;color:rgb(255,0,0);transform:scale(0.8708,1.0000)">A</span>
<span style="left:25.89px;top:479.00px;font-family:'Liberation Sans', sans-serif;font-style:normal;font-size:26.00px;color:rgb(255,0,0);transform:scale(1.0030,1.0000)">dditivity</span>
<span style="left:7.52px;top:46.00px;font-family:'Liberation Sans', sans-serif;font-style:normal;font-size:22.90px;color:#000;transform:scale(0.9275,1.0000)">T</span>
<span style="left:18.50px;top:48.00px;font-family:'Liberation Sans', sans-serif;font-style:normal;font-size:21.00px;color:#000;transform:scale(0.9735,1.0000)">wo</span>
<span style="left:50.73px;top:48.00px;font-family:'Liberation Sans', sans-serif;font-style:normal;font-size:21.00px;color:#000;transform:scale(1.0157,1.0000)">jolts</span>
<span style="left:94.38px;top:48.00px;font-family:'Liberation Sans', sans-serif;font-style:normal;font-size:21.00px;color:#000;transform:scale(1.0278,1.0000)">are</span>
<span style="left:131.21px;top:48.00px;font-family:'Liberation Sans', sans-serif;font-style:normal;font-size:21.00px;color:#000;transform:scale(1.0275,1.0000)">superposed:</span>
<span style="left:7.62px;top:414.00px;font-family:'Liberation Sans', sans-serif;font-style:normal;font-size:22.90px;color:#000;transform:scale(0.9275,1.0000)">T</span>
<span style="left:20.55px;top:416.00px;font-family:'Liberation Sans', sans-serif;font-style:normal;font-size:21.00px;color:#000;transform:scale(0.9834,1.0000)">he</span>
<span style="left:49.36px;top:416.00px;font-family:'Liberation Sans', sans-serif;font-style:normal;font-size:21.00px;color:#000;transform:scale(1.0147,1.0000)">responses</span>
<span style="left:153.90px;top:416.00px;font-family:'Liberation Sans', sans-serif;font-style:normal;font-size:21.00px;color:#000;transform:scale(1.0138,1.0000)">are</span>
<span style="left:190.61px;top:416.00px;font-family:'Liberation Sans', sans-serif;font-style:normal;font-size:21.00px;color:#000;transform:scale(1.0196,1.0000)">superposed.</span>
<span style="left:256.91px;top:49.00px;font-family:'Liberation Sans', sans-serif;font-style:italic;font-size:20.19px;color:#000;transform:scale(0.9254,1.0000)">u</span>
<span style="left:278.77px;top:50.00px;font-family:'Liberation Sans', sans-serif;font-style:italic;font-size:19.47px;color:#000;transform:scale(1.0561,1.0000)">t</span>
<span style="left:363.86px;top:48.00px;font-family:'Liberation Serif', serif;font-style:italic;font-size:21.77px;color:#000;transform:scale(0.8316,1.0000)">δ</span>
<span style="left:384.37px;top:50.00px;font-family:'Liberation Sans', sans-serif;font-style:italic;font-size:19.47px;color:#000;transform:scale(1.0561,1.0000)">t</span>
<span style="left:467.03px;top:48.00px;font-family:'Liberation Serif', serif;font-style:italic;font-size:21.77px;color:#000;transform:scale(0.8726,1.0000)">δ</span>
<span style="left:487.46px;top:50.00px;font-family:'Liberation Sans', sans-serif;font-style:italic;font-size:19.47px;color:#000;transform:scale(1.0754,1.0000)">t</span>
<span style="left:330.59px;top:533.00px;font-family:'Liberation Sans', sans-serif;font-style:italic;font-size:20.65px;color:#000;transform:scale(0.9242,1.0000)">u</span>
<span style="left:361.57px;top:533.00px;font-family:'Liberation Sans', sans-serif;font-style:italic;font-size:20.68px;color:#000;transform:scale(0.9940,1.0000)">t</span>
<span style="left:405.99px;top:533.00px;font-family:'Liberation Sans', sans-serif;font-style:italic;font-size:20.65px;color:#000;transform:scale(0.9242,1.0000)">u</span>
<span style="left:416.58px;top:541.00px;font-family:'Liberation Sans', sans-serif;font-style:normal;font-size:15.77px;color:#000;transform:scale(1.0452,1.0000)">2</span>
<span style="left:436.97px;top:533.00px;font-family:'Liberation Sans', sans-serif;font-style:italic;font-size:20.68px;color:#000;transform:scale(0.9940,1.0000)">t</span>
<span style="left:488.83px;top:532.00px;font-family:'Liberation Sans', sans-serif;font-style:italic;font-size:21.50px;color:#000;transform:scale(0.9112,1.0000)">y</span>
<span style="left:517.97px;top:533.00px;font-family:'Liberation Sans', sans-serif;font-style:italic;font-size:20.68px;color:#000;transform:scale(0.9940,1.0000)">t</span>
<span style="left:562.38px;top:532.00px;font-family:'Liberation Sans', sans-serif;font-style:italic;font-size:21.50px;color:#000;transform:scale(0.9150,1.0000)">y</span>
<span style="left:572.03px;top:541.00px;font-family:'Liberation Sans', sans-serif;font-style:normal;font-size:15.48px;color:#000;transform:scale(1.0007,1.0000)">2</span>
<span style="left:591.64px;top:533.00px;font-family:'Liberation Sans', sans-serif;font-style:italic;font-size:20.68px;color:#000;transform:scale(0.9217,1.0000)">t</span>
<span style="left:23.57px;top:246.00px;font-family:'Liberation Serif', serif;font-style:normal;font-size:20.60px;color:#000;transform:scale(1.0000,1.0000)">−1.0</span>
<span style="left:70.79px;top:246.00px;font-family:'Liberation Serif', serif;font-style:normal;font-size:20.60px;color:#000;transform:scale(1.0000,1.0000)">−0.5</span>
<span style="left:171.17px;top:246.00px;font-family:'Liberation Serif', serif;font-style:normal;font-size:20.60px;color:#000;transform:scale(1.0000,1.0000)">0.5</span>
<span style="left:217.84px;top:246.00px;font-family:'Liberation Serif', serif;font-style:normal;font-size:20.60px;color:#000;transform:scale(1.0000,1.0000)">1.0</span>
<span style="left:265.08px;top:246.00px;font-family:'Liberation Serif', serif;font-style:normal;font-size:20.60px;color:#000;transform:scale(1.0000,1.0000)">1.5</span>
<span style="left:312.71px;top:246.00px;font-family:'Liberation Serif', serif;font-style:normal;font-size:20.60px;color:#000;transform:scale(1.0000,1.0000)">2.0</span>
<span style="left:120.03px;top:139.00px;font-family:'Liberation Serif', serif;font-style:normal;font-size:20.60px;color:#000;transform:scale(1.0000,1.0000)">2</span>
<span style="left:120.04px;top:185.00px;font-family:'Liberation Serif', serif;font-style:normal;font-size:20.60px;color:#000;transform:scale(1.0000,1.0000)">1</span>
<span style="left:108.30px;top:276.00px;font-family:'Liberation Serif', serif;font-style:normal;font-size:20.60px;color:#000;transform:scale(1.0000,1.0000)">−1</span>
<span style="left:108.19px;top:321.00px;font-family:'Liberation Serif', serif;font-style:normal;font-size:20.60px;color:#000;transform:scale(1.0000,1.0000)">−2</span>
<span style="left:123.13px;top:114.00px;font-family:'Liberation Serif', serif;font-style:normal;font-size:19.00px;color:#000;transform:scale(1.0000,1.0000)">u(t)</span>
<span style="left:348.95px;top:231.00px;font-family:'Liberation Serif', serif;font-style:normal;font-size:19.50px;color:#000;transform:scale(1.0000,1.0000)">t</span>
<span style="left:387.22px;top:248.00px;font-family:'Liberation Serif', serif;font-style:normal;font-size:20.40px;color:#000;transform:scale(1.0000,0.9300)">−1.0</span>
<span style="left:433.80px;top:248.00px;font-family:'Liberation Serif', serif;font-style:normal;font-size:20.40px;color:#000;transform:scale(1.0000,0.9300)">−0.5</span>
<span style="left:532.86px;top:248.00px;font-family:'Liberation Serif', serif;font-style:normal;font-size:20.40px;color:#000;transform:scale(1.0000,0.9300)">0.5</span>
<span style="left:578.91px;top:248.00px;font-family:'Liberation Serif', serif;font-style:normal;font-size:20.40px;color:#000;transform:scale(1.0000,0.9300)">1.0</span>
<span style="left:625.52px;top:248.00px;font-family:'Liberation Serif', serif;font-style:normal;font-size:20.40px;color:#000;transform:scale(1.0000,0.9300)">1.5</span>
<span style="left:672.51px;top:248.00px;font-family:'Liberation Serif', serif;font-style:normal;font-size:20.40px;color:#000;transform:scale(1.0000,0.9300)">2.0</span>
<span style="left:482.32px;top:142.00px;font-family:'Liberation Serif', serif;font-style:normal;font-size:20.40px;color:#000;transform:scale(1.0000,0.9500)">2</span>
<span style="left:482.22px;top:187.00px;font-family:'Liberation Serif', serif;font-style:normal;font-size:20.40px;color:#000;transform:scale(1.0000,0.9500)">1</span>
<span style="left:470.50px;top:278.00px;font-family:'Liberation Serif', serif;font-style:normal;font-size:20.40px;color:#000;transform:scale(1.0000,0.9300)">−1</span>
<span style="left:470.40px;top:323.00px;font-family:'Liberation Serif', serif;font-style:normal;font-size:20.40px;color:#000;transform:scale(1.0000,0.9300)">−2</span>
<span style="left:484.83px;top:114.00px;font-family:'Liberation Serif', serif;font-style:normal;font-size:19.00px;color:#000;transform:scale(1.0000,1.0000)">y(t)</span>
<span style="left:708.75px;top:232.00px;font-family:'Liberation Serif', serif;font-style:normal;font-size:19.50px;color:#000;transform:scale(1.0000,0.9500)">t</span>
</body></html>
